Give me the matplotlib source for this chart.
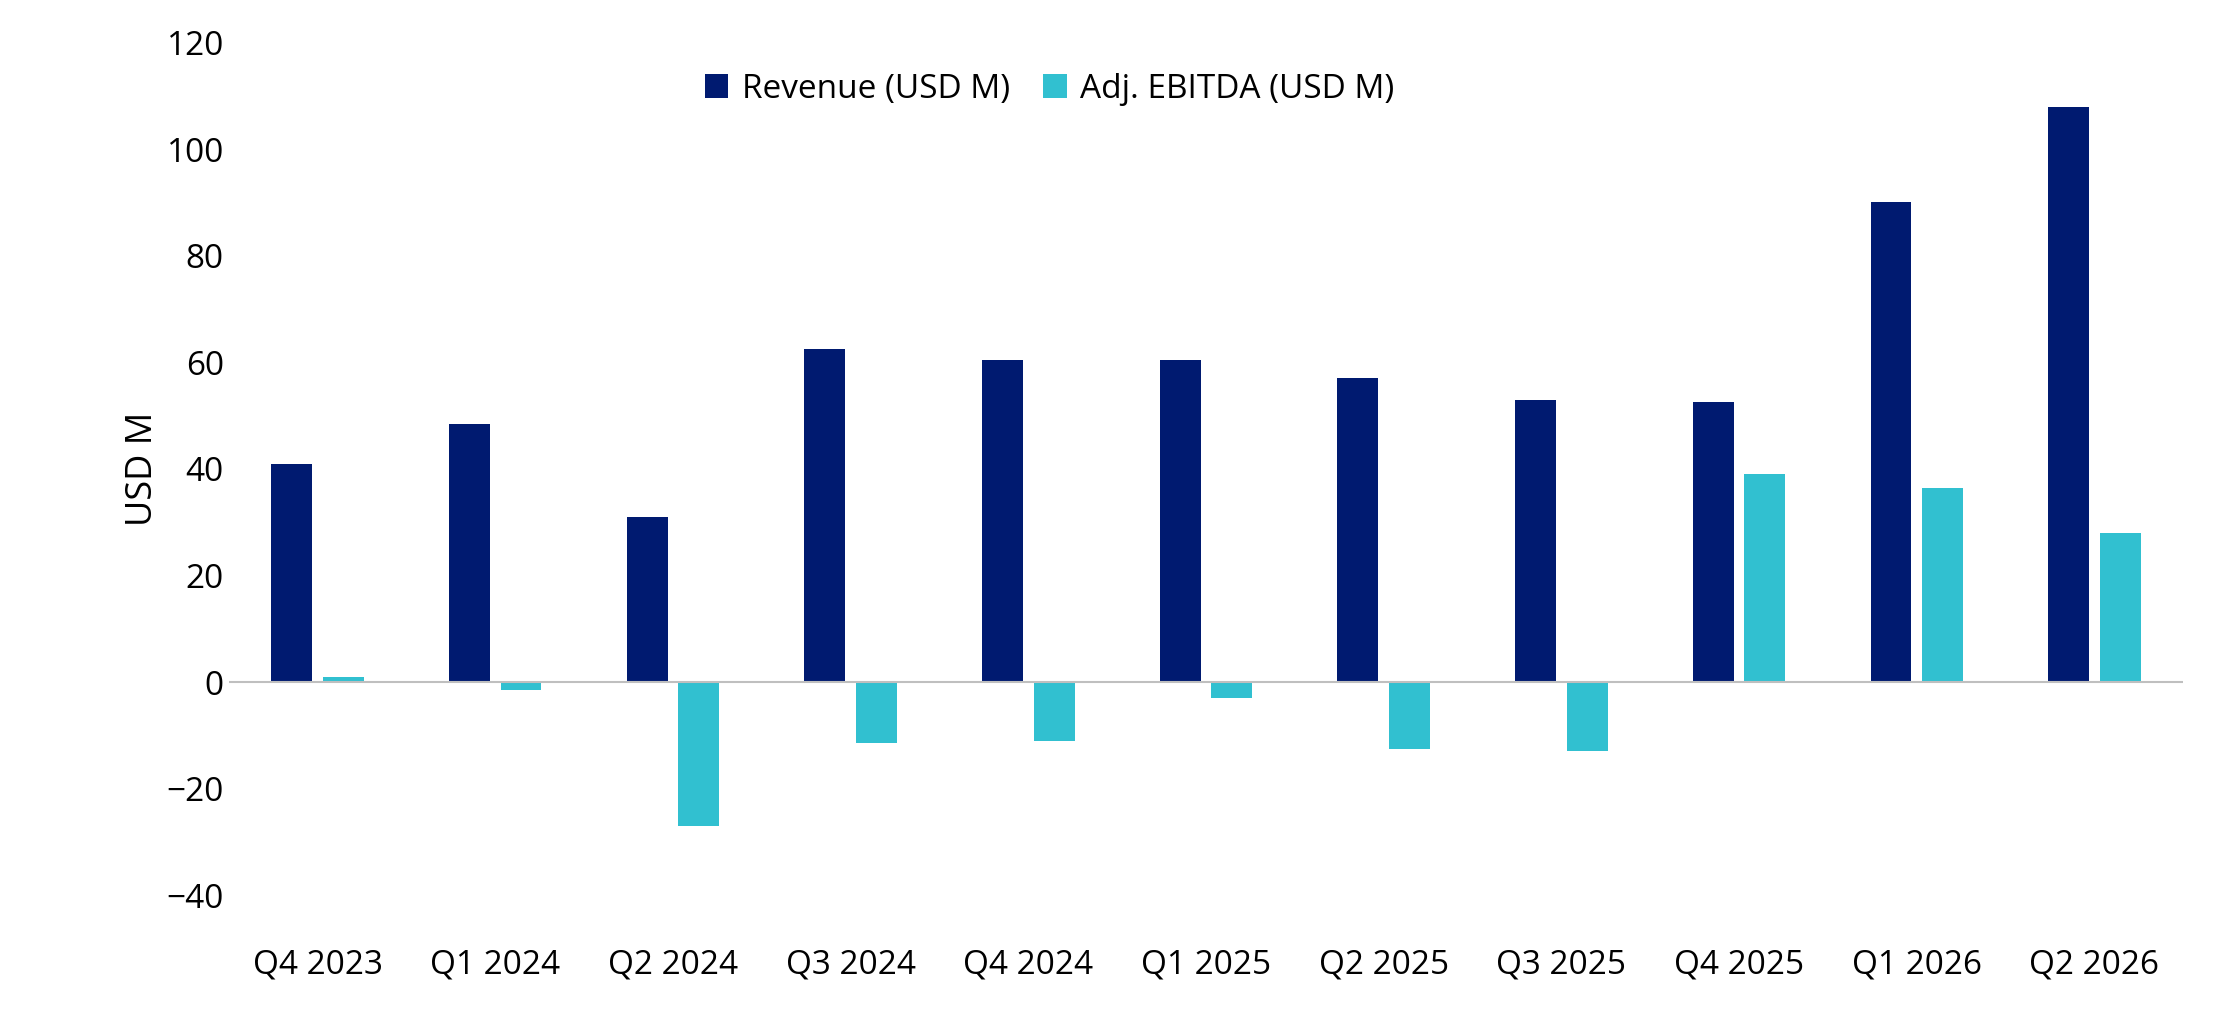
import matplotlib
matplotlib.use("Agg")
import matplotlib.pyplot as plt
import numpy as np

categories = ["Q4 2023","Q1 2024","Q2 2024","Q3 2024","Q4 2024","Q1 2025","Q2 2025","Q3 2025","Q4 2025","Q1 2026","Q2 2026"]
revenue = [41, 48.5, 31, 62.5, 60.5, 60.5, 57, 53, 52.5, 90, 108]
ebitda = [1, -1.5, -27, -11.5, -11, -3, -12.5, -13, 39, 36.5, 28]

plt.rcParams['font.family'] = ['Open Sans', 'DejaVu Sans']
fig = plt.figure(figsize=(22.21, 10.14), dpi=100)
ax = fig.add_axes([0.103, 0.117, 0.880, 0.841])
x = np.arange(len(categories))
w = 0.23
ax.bar(x - 0.145, revenue, w, color="#001A70", label="Revenue (USD M)")
ax.bar(x + 0.145, ebitda, w, color="#31C0D0", label="Adj. EBITDA (USD M)")
ax.set_ylim(-40, 120)
ax.set_yticks(range(-40, 121, 20))
ax.set_xlim(-0.5, len(categories) - 0.5)
ax.set_xticks(x)
ax.set_xticklabels(categories)
ax.axhline(0, color="#BFBFBF", lw=1.5)
for s in ax.spines.values():
    s.set_visible(False)
ax.tick_params(length=0, labelsize=24, colors="#000000")
ax.tick_params(axis='x', pad=38)
ax.set_ylabel("USD M", fontsize=26)
ax.legend(loc="upper center", bbox_to_anchor=(0.42, 1.0), ncol=2, frameon=False,
          fontsize=24, handlelength=0.7, handleheight=0.7, columnspacing=1.0, handletextpad=0.4)
fig.savefig("out.png", dpi=100)
